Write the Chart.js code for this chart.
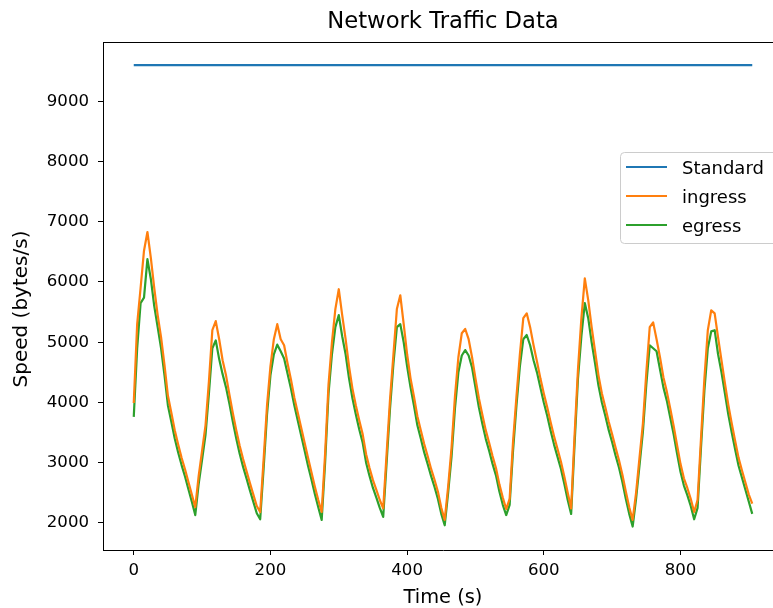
<!DOCTYPE html>
<html>
<head>
<meta charset="utf-8">
<script src="https://cdn.jsdelivr.net/npm/chart.js@4.4.1/dist/chart.umd.min.js"></script>
<style>
  html, body { margin: 0; padding: 0; background: #ffffff; overflow: hidden; }
  #wrap { width: 800px; height: 608px; }
  canvas { display: block; }
</style>
</head>
<body>
<div id="wrap"><canvas id="c" width="800" height="608"></canvas></div>
<script>
// ---- Data ----
const chartTitle = "Network Traffic Data";
const xAxisLabel = "Time (s)";
const yAxisLabel = "Speed (bytes/s)";
const seriesNames = ["Standard", "ingress", "egress"];

const xTickValues = [0, 200, 400, 600, 800];
const yTickValues = [2000, 3000, 4000, 5000, 6000, 7000, 8000, 9000];

const standardTimes = [0, 905];
const standardValues = [9600, 9600];

const times = [
  0, 5, 10, 15, 20, 25, 30, 35, 40, 45, 50, 55, 60, 65, 70, 75, 80, 85, 90,
  95, 100, 105, 110, 115, 120, 125, 130, 135, 140, 145, 150, 155, 160, 165, 170, 175, 180, 185,
  190, 195, 200, 205, 210, 215, 220, 225, 230, 235, 240, 245, 250, 255, 260, 265, 270, 275,
  280, 285, 290, 295, 300, 305, 310, 315, 320, 325, 330, 335, 340, 345, 350, 355, 360, 365,
  370, 375, 380, 385, 390, 395, 400, 405, 410, 415, 420, 425, 430, 435, 440, 445, 450, 455,
  460, 465, 470, 475, 480, 485, 490, 495, 500, 505, 510, 515, 520, 525, 530, 535, 540, 545,
  550, 555, 560, 565, 570, 575, 580, 585, 590, 595, 600, 605, 610, 615, 620, 625, 630, 635, 640,
  645, 650, 655, 660, 665, 670, 675, 680, 685, 690, 695, 700, 705, 710, 715, 720, 725, 730,
  735, 740, 745, 750, 755, 760, 765, 770, 775, 780, 785, 790, 795, 800, 805, 810, 815, 820,
  825, 830, 835, 840, 845, 850, 855, 860, 865, 870, 875, 880, 885, 890, 895, 900, 905
];

const ingress = [
  3990, 5300, 5900, 6520, 6830, 6400, 5900, 5450, 5080, 4620, 4110, 3830, 3540, 3300, 3080, 2890, 2680, 2470, 2260,
  2780, 3200, 3620, 4350, 5200, 5350, 5050, 4700, 4450, 4130, 3820, 3540, 3280, 3060, 2860, 2660, 2470, 2280, 2180,
  3050, 3950, 4600, 5050, 5300, 5050, 4950, 4650, 4380, 4080, 3830, 3580, 3330, 3080, 2840, 2600, 2380, 2180,
  3150, 4300, 5000, 5550, 5880, 5450, 5050, 4600, 4230, 3950, 3700, 3470, 3140, 2910, 2710, 2550, 2380, 2240,
  3150, 4050, 4800, 5550, 5780, 5300, 4800, 4400, 4100, 3770, 3540, 3310, 3110, 2900, 2720, 2520, 2250, 2050,
  2600, 3250, 4100, 4750, 5150, 5220, 5050, 4750, 4400, 4070, 3800, 3540, 3330, 3110, 2910, 2640, 2420, 2230,
  2400, 3350, 4100, 4800, 5400, 5480, 5250, 4950, 4680, 4400, 4150, 3920, 3670, 3440, 3230, 3020, 2770, 2500, 2240,
  3450, 4550, 5400, 6060, 5700, 5250, 4850, 4450, 4150, 3920, 3680, 3470, 3250, 3040, 2800, 2520, 2260, 2050,
  2500, 3080, 3650, 4500, 5250, 5330, 5050, 4750, 4420, 4180, 3900, 3610, 3290, 2980, 2740, 2580, 2400, 2180,
  2380, 3400, 4400, 5200, 5530, 5480, 5080, 4700, 4320, 3960, 3650, 3360, 3080, 2870, 2670, 2470, 2320
];

const egress = [
  3760, 4900, 5650, 5740, 6380, 6050, 5600, 5250, 4900, 4450, 3950, 3680, 3400, 3170, 2960, 2770, 2560, 2350, 2130,
  2650, 3050, 3460, 4150, 4900, 5030, 4720, 4470, 4250, 3980, 3680, 3400, 3150, 2930, 2740, 2540, 2350, 2160, 2060,
  2900, 3800, 4450, 4800, 4960, 4850, 4730, 4480, 4230, 3950, 3700, 3450, 3200, 2950, 2720, 2480, 2260, 2050,
  3000, 4150, 4800, 5250, 5450, 5100, 4800, 4400, 4070, 3800, 3550, 3330, 3000, 2780, 2580, 2420, 2250, 2100,
  3000, 3900, 4650, 5250, 5300, 5000, 4600, 4250, 3950, 3620, 3400, 3170, 2980, 2780, 2600, 2400, 2150, 1960,
  2500, 3100, 3900, 4500, 4780, 4870, 4780, 4580, 4250, 3920, 3650, 3400, 3200, 2980, 2790, 2520, 2300, 2130,
  2300, 3200, 3950, 4600, 5050, 5120, 4950, 4700, 4500, 4250, 4000, 3780, 3530, 3300, 3100, 2900, 2650, 2380, 2150,
  3300, 4400, 5100, 5650, 5400, 5000, 4650, 4280, 4000, 3780, 3540, 3340, 3120, 2920, 2680, 2400, 2150, 1940,
  2400, 2950, 3510, 4300, 4950, 4900, 4850, 4550, 4250, 4030, 3750, 3470, 3150, 2850, 2620, 2460, 2280, 2060,
  2250, 3250, 4200, 4900, 5180, 5200, 4800, 4500, 4150, 3800, 3500, 3220, 2950, 2750, 2550, 2350, 2150
];

const colors = ["#1f77b4", "#ff7f0e", "#2ca02c"];

// ---- Build ----
const FONT = "'DejaVu Sans', 'Liberation Sans', sans-serif";
const toPoints = (xs, ys) => xs.map((x, i) => ({ x: x, y: ys[i] }));

const lineStyle = {
  borderWidth: 2.2,
  pointRadius: 0,
  pointHoverRadius: 0,
  tension: 0,
  fill: false,
  borderCapStyle: 'butt',
  borderJoinStyle: 'round'
};

const frameAndText = {
  id: 'frameAndText',
  afterDraw(chart) {
    const { ctx, chartArea: a } = chart;
    ctx.save();
    // top and right spines
    ctx.strokeStyle = '#000';
    ctx.lineWidth = 1;
    ctx.beginPath();
    ctx.moveTo(a.left, a.top + 0.5);
    ctx.lineTo(a.right, a.top + 0.5);
    ctx.moveTo(a.right - 0.5, a.top);
    ctx.lineTo(a.right - 0.5, a.bottom);
    ctx.stroke();

    // title
    ctx.fillStyle = '#000';
    ctx.font = '22.7px ' + FONT;
    ctx.textAlign = 'center';
    ctx.textBaseline = 'alphabetic';
    ctx.fillText(chartTitle, (a.left + a.right) / 2, 28);

    // y axis label
    ctx.save();
    ctx.translate(22, 309);
    ctx.rotate(-Math.PI / 2);
    ctx.font = '20px ' + FONT;
    ctx.textAlign = 'center';
    ctx.textBaseline = 'middle';
    ctx.fillText(yAxisLabel, 0, 0);
    ctx.restore();

    // legend
    const bx = 620.5, by = 152.5, bw = 200, bh = 91, r = 4;
    ctx.globalAlpha = 0.8;
    ctx.fillStyle = '#ffffff';
    ctx.beginPath();
    ctx.roundRect(bx, by, bw, bh, r);
    ctx.fill();
    ctx.globalAlpha = 1;
    ctx.strokeStyle = '#cccccc';
    ctx.lineWidth = 1;
    ctx.stroke();

    const rows = [167, 196, 225];
    ctx.font = '18px ' + FONT;
    ctx.textAlign = 'left';
    ctx.textBaseline = 'alphabetic';
    chart.data.datasets.forEach((ds, i) => {
      ctx.strokeStyle = ds.borderColor;
      ctx.lineWidth = 2.2;
      ctx.beginPath();
      ctx.moveTo(626, rows[i]);
      ctx.lineTo(667, rows[i]);
      ctx.stroke();
      ctx.fillStyle = '#000';
      ctx.fillText(ds.label, 682, rows[i] + 6.5);
    });
    ctx.restore();
  }
};

new Chart(document.getElementById('c'), {
  type: 'line',
  data: {
    datasets: [
      Object.assign({ label: seriesNames[0], data: toPoints(standardTimes, standardValues), borderColor: colors[0] }, lineStyle),
      Object.assign({ label: seriesNames[1], data: toPoints(times, ingress), borderColor: colors[1] }, lineStyle),
      Object.assign({ label: seriesNames[2], data: toPoints(times, egress), borderColor: colors[2] }, lineStyle)
    ]
  },
  options: {
    responsive: false,
    animation: false,
    events: [],
    layout: { padding: { top: 42, right: 17, left: 0, bottom: 0 } },
    plugins: {
      legend: { display: false },
      title: { display: false },
      tooltip: { enabled: false }
    },
    scales: {
      x: {
        type: 'linear',
        min: -45,
        max: 950,
        afterBuildTicks: s => { s.ticks = xTickValues.map(v => ({ value: v })); },
        afterFit: s => { s.height = 58; },
        ticks: { font: { family: FONT, size: 16.6 }, color: '#000', padding: 6, maxRotation: 0, autoSkip: false,
                 callback: v => String(v) },
        grid: { display: true, drawOnChartArea: false, drawTicks: true, tickLength: 5, color: '#000', tickWidth: 1 },
        border: { display: true, color: '#000', width: 1 },
        title: { display: true, text: xAxisLabel, color: '#000', font: { family: FONT, size: 19.4, lineHeight: 1 }, padding: { top: 0, bottom: 0 } }
      },
      y: {
        type: 'linear',
        min: 1550,
        max: 9985,
        afterBuildTicks: s => { s.ticks = yTickValues.map(v => ({ value: v })); },
        afterFit: s => { s.width = 103; },
        ticks: { font: { family: FONT, size: 16.6 }, color: '#000', padding: 9, autoSkip: false,
                 callback: v => String(v) },
        grid: { display: true, drawOnChartArea: false, drawTicks: true, tickLength: 5, color: '#000', tickWidth: 1 },
        border: { display: true, color: '#000', width: 1 },
        title: { display: false, text: yAxisLabel }
      }
    }
  },
  plugins: [frameAndText]
});
</script>
</body>
</html>
